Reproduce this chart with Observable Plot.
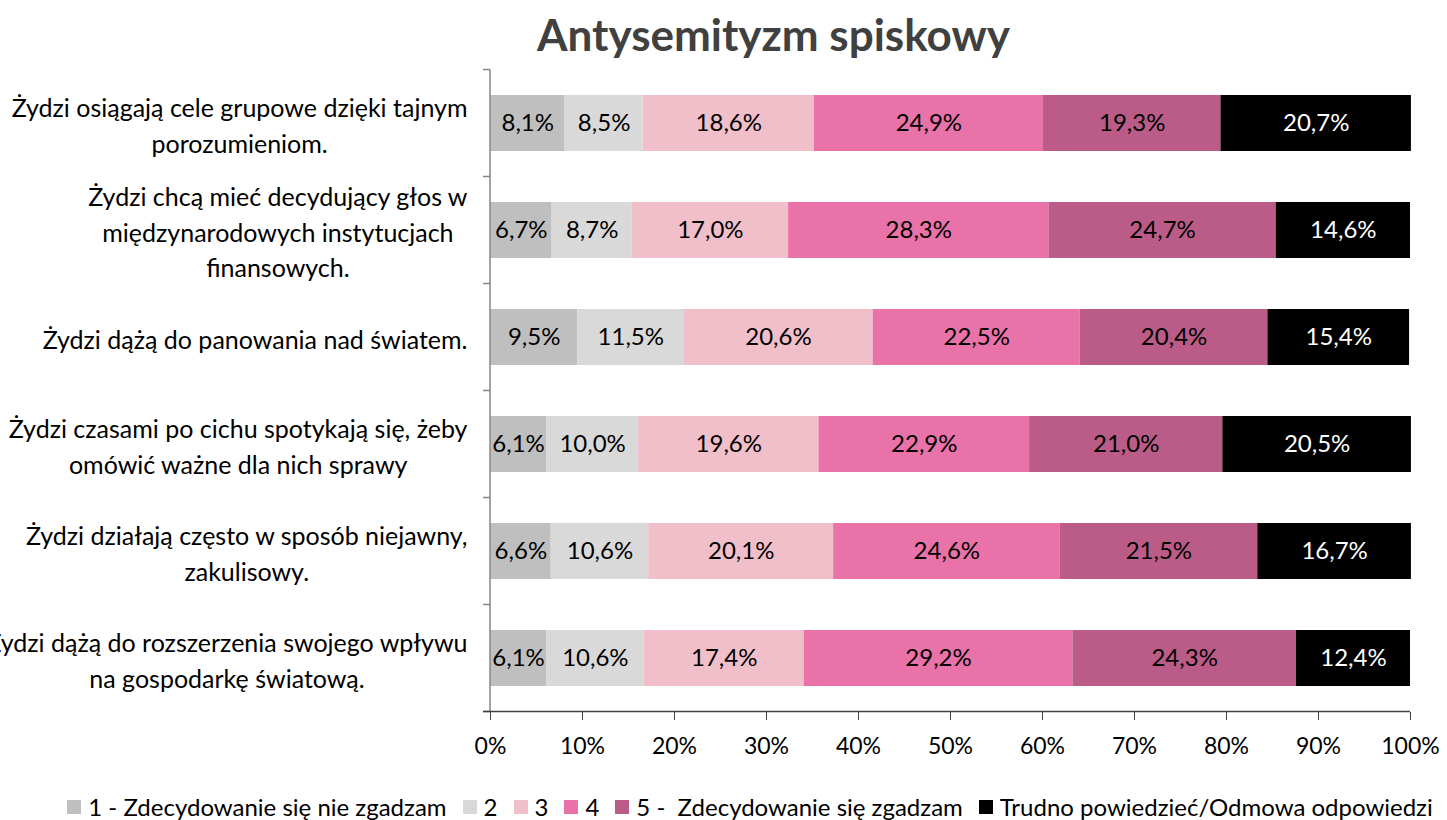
<!DOCTYPE html>
<html><head><meta charset="utf-8">
<script src="https://cdn.jsdelivr.net/npm/d3@7"></script>
<script src="https://cdn.jsdelivr.net/npm/@observablehq/plot@0.6"></script>
<style>
body{margin:0;background:#fff;font-family:Lato,"Noto Sans",sans-serif;}
#wrap{position:relative;width:1447px;height:820px;overflow:hidden;background:#fff;}
#title{position:absolute;left:0;top:6px;width:1547px;text-align:center;font-size:44px;font-weight:bold;color:#404040;line-height:56px;}
#chart{position:absolute;left:0;top:58px;}
#legend{position:absolute;left:0;top:792px;width:1516px;display:flex;justify-content:center;align-items:center;font-size:24px;color:#000;white-space:pre;}
.li{display:flex;align-items:center;margin-right:16px;}
.sw{width:14px;height:14px;margin-right:7px;}
</style></head><body>
<div id="wrap">
<div id="title">Antysemityzm spiskowy</div>
<div id="chart"></div>
<div id="legend"></div>
</div>
<script>
const categories = [
  "Żydzi osiągają cele grupowe dzięki tajnym\nporozumieniom.",
  "Żydzi chcą mieć decydujący głos w\nmiędzynarodowych instytucjach\nfinansowych.",
  "Żydzi dążą do panowania nad światem.",
  "Żydzi czasami po cichu spotykają się, żeby\nomówić ważne dla nich sprawy",
  "Żydzi działają często w sposób niejawny,\nzakulisowy.",
  "Żydzi dążą do rozszerzenia swojego wpływu\nna gospodarkę światową."
];
const seriesNames = [
  "1 - Zdecydowanie się nie zgadzam",
  "2",
  "3",
  "4",
  "5 -  Zdecydowanie się zgadzam",
  "Trudno powiedzieć/Odmowa odpowiedzi"
];
const s1 = [8.1, 6.7, 9.5, 6.1, 6.6, 6.1];
const s2 = [8.5, 8.7, 11.5, 10.0, 10.6, 10.6];
const s3 = [18.6, 17.0, 20.6, 19.6, 20.1, 17.4];
const s4 = [24.9, 28.3, 22.5, 22.9, 24.6, 29.2];
const s5 = [19.3, 24.7, 20.4, 21.0, 21.5, 24.3];
const s6 = [20.7, 14.6, 15.4, 20.5, 16.7, 12.4];
const seriesColors = ["#BFBFBF", "#D9D9D9", "#F0BFCA", "#E972A8", "#BB5C88", "#000000"];
const xTicks = [0, 10, 20, 30, 40, 50, 60, 70, 80, 90, 100];

const seriesValues = [s1, s2, s3, s4, s5, s6];
const table = [];
categories.forEach((c, i) => seriesValues.forEach((arr, j) => table.push({cat: c, series: seriesNames[j], value: arr[i]})));
const fmt = v => v.toFixed(1).replace(".", ",") + "%";
const last = seriesNames[seriesNames.length - 1];

const stackOpts = extra => Plot.stackX({x: "value", y: "cat", z: "series", order: seriesNames, ...extra});

const chart = Plot.plot({
  width: 1447, height: 700,
  marginLeft: 490, marginRight: 37, marginTop: 10, marginBottom: 46,
  style: {fontFamily: "Lato, 'Noto Sans', sans-serif", fontSize: "23px", color: "#000", background: "#fff", overflow: "visible"},
  x: {domain: [0, 100], label: null},
  y: {domain: categories, paddingInner: 0.48, paddingOuter: 0.24, label: null},
  color: {domain: seriesNames, range: seriesColors},
  marks: [
    Plot.barX(table, stackOpts({fill: "series"})),
    Plot.text(table, stackOpts({text: d => d.series === last ? null : fmt(d.value), fill: "black", fontSize: 24})),
    Plot.text(table, stackOpts({text: d => d.series === last ? fmt(d.value) : null, fill: "white", fontSize: 24})),
    Plot.axisX({ticks: xTicks, tickFormat: d => d + "%", tickSize: 8, tickPadding: 17, stroke: "#404040", fill: "#000", fontSize: 23, label: null}),
    Plot.axisY({tickSize: 0, tickPadding: 23, fontSize: 25, fill: "#000", lineHeight: 1.42, label: null})
  ]
});
document.getElementById("chart").appendChild(chart);

// center-align wrapped y labels within their block (block right-aligned)
d3.select(chart).selectAll('g[aria-label="y-axis tick label"] text').each(function() {
  const t = d3.select(this);
  const spans = t.selectAll("tspan");
  let maxW = 0;
  if (spans.size()) {
    spans.each(function() { maxW = Math.max(maxW, this.getComputedTextLength()); });
    t.attr("text-anchor", "middle");
    spans.attr("x", -maxW / 2);
  } else {
    maxW = this.getComputedTextLength();
    t.attr("text-anchor", "middle");
    t.attr("x", (+t.attr("x") || 0) - maxW / 2);
  }
});

// axis lines drawn from the plot's own scales
const xs = chart.scale("x"), ys = chart.scale("y");
const x0 = xs.apply(0), x1 = xs.apply(100);
const gap = (ys.step - ys.bandwidth) / 2;
const bounds = categories.map(c => ys.apply(c) - gap);
bounds.push(ys.apply(categories[categories.length - 1]) + ys.bandwidth + gap);
const g = d3.select(chart).append("g");
g.append("line").attr("x1", x0).attr("x2", x0).attr("y1", bounds[0]).attr("y2", bounds[bounds.length - 1]).attr("stroke", "#868686").attr("stroke-width", 1.5);
bounds.forEach(b => g.append("line").attr("x1", x0 - 7).attr("x2", x0).attr("y1", b).attr("y2", b).attr("stroke", "#868686").attr("stroke-width", 1.5));
g.append("line").attr("x1", x0 - 7).attr("x2", x1).attr("y1", bounds[bounds.length - 1]).attr("y2", bounds[bounds.length - 1]).attr("stroke", "#404040").attr("stroke-width", 1.5);

// legend
const legend = d3.select("#legend");
seriesNames.forEach((n, i) => {
  const it = legend.append("div").attr("class", "li");
  it.append("div").attr("class", "sw").style("background", seriesColors[i]);
  it.append("span").text(n);
});
</script>
</body></html>
